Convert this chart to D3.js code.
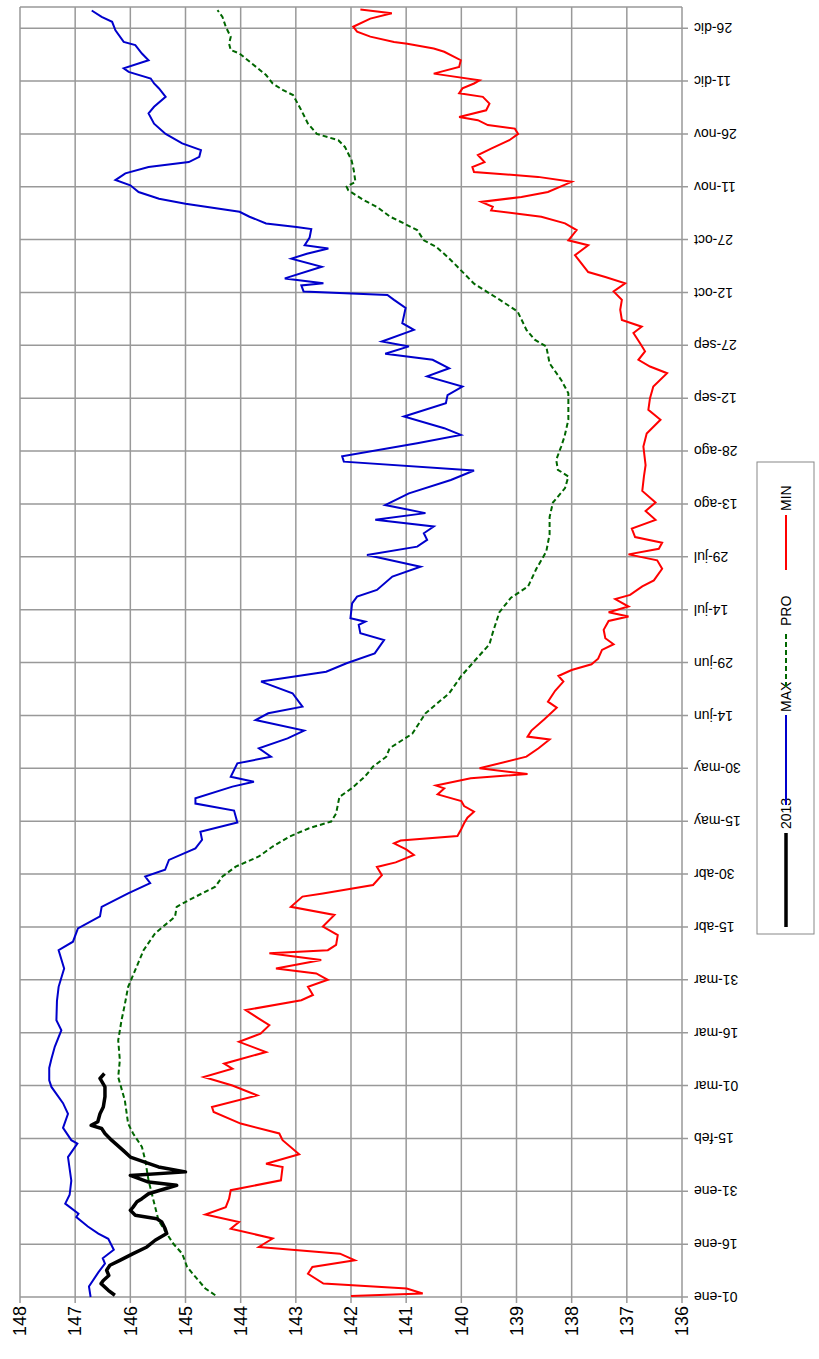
<!DOCTYPE html>
<html>
<head>
<meta charset="utf-8">
<script src="https://cdn.jsdelivr.net/npm/d3@7"></script>
<style>
  body { margin:0; background:#fff; }
  text { font-family: "Liberation Sans", "DejaVu Sans", sans-serif; fill:#000; }
</style>
</head>
<body>
<div id="chart"></div>
<script>
// values (day of year, cm)
var dateLabels = ["01-ene","16-ene","31-ene","15-feb","01-mar","16-mar","31-mar","15-abr","30-abr","15-may","30-may","14-jun","29-jun","14-jul","29-jul","13-ago","28-ago","12-sep","27-sep","12-oct","27-oct","11-nov","26-nov","11-dic","26-dic"];
var valueTicks = [148,147,146,145,144,143,142,141,140,139,138,137,136];

var maxPts = [[0,146.72],[3,146.75],[7,146.58],[9.5,146.46],[11,146.5],[13.4,146.3],[16.5,146.4],[18,146.58],[20,146.77],[22.7,146.98],[23.6,146.94],[26.5,147.18],[29,147.1],[33,147.07],[39.7,147.13],[43.5,146.96],[44.5,147.07],[48,147.22],[52,147.13],[55,147.22],[59.6,147.43],[61.5,147.47],[65,147.47],[67.6,147.43],[71,147.37],[75.7,147.25],[78.5,147.34],[84,147.33],[88,147.3],[93.2,147.2],[98.4,147.3],[100.8,147.04],[104.6,146.95],[108,146.55],[110.7,146.52],[114.5,146.04],[117.4,145.64],[119.3,145.73],[121.2,145.37],[124,145.3],[127.3,144.82],[129.7,144.7],[132,144.73],[134.6,144.06],[138,144.12],[140,144.82],[141.5,144.82],[144.8,144.15],[146.2,143.76],[147.6,144.18],[151.4,144.06],[153.3,143.45],[155.7,143.67],[158.5,143.15],[160.7,142.85],[163.7,143.73],[165.6,143.5],[167.5,142.88],[171.3,143.06],[174.6,143.63],[177.4,142.45],[179.8,142.08],[182.6,141.57],[186.4,141.4],[188.3,141.83],[190.7,141.86],[191.6,141.74],[192.6,142.01],[196.8,141.98],[198.7,141.89],[200.6,141.53],[204.4,141.25],[207.2,140.74],[210.5,141.71],[212.9,140.8],[214.8,140.62],[216.7,140.68],[218.6,140.5],[220.5,141.56],[222.4,140.65],[224.7,141.38],[228,140.95],[231.8,140.19],[234.5,139.77],[237,142.13],[238.5,142.16],[242.2,140.8],[244.6,140.01],[246.5,140.31],[249.8,141.04],[253.6,140.28],[255.9,140.25],[258.3,139.98],[261.2,140.62],[263.5,140.22],[265.9,140.52],[267.6,141.38],[269.7,140.95],[271.1,141.44],[274.4,140.86],[276.3,141.07],[280.6,141.01],[282.9,141.22],[284.3,141.34],[285.3,142.86],[287,142.9],[287.6,142.5],[289,143.2],[292.3,142.53],[294.6,143.08],[296,142.8],[297.5,142.41],[298.4,142.84],[300.6,142.75],[303,142.72],[303.6,142.99],[304.6,143.54],[306.5,143.84],[307.9,144.02],[310.2,145.0],[311.6,145.48],[313.5,145.85],[315.4,146.0],[316.9,146.27],[318.8,146.09],[320.6,145.67],[322,144.94],[323.5,144.75],[325.4,144.72],[327.3,145.06],[330,145.36],[332.9,145.57],[335.8,145.67],[337.7,145.57],[340.5,145.36],[342.9,145.48],[344.3,145.57],[345.7,145.63],[347.6,146.03],[348.6,146.12],[350.9,145.67],[352.8,145.79],[355.2,145.91],[356.1,146.12],[359.4,146.27],[361.8,146.33],[363.2,146.52],[365,146.7]];

var minPts = [[0.3,142.0],[1,140.7],[2.4,140.99],[3.8,142.5],[6.6,142.78],[8.5,142.7],[10.4,141.93],[12.3,142.2],[14.2,143.67],[16.6,143.42],[19.4,144.18],[21.3,144.03],[23.4,144.64],[25.5,144.27],[27.9,144.21],[30.3,144.18],[33.1,143.27],[36.9,143.24],[37.8,143.54],[40.5,142.94],[44.5,143.24],[46.4,143.3],[49.2,144.0],[52.5,144.49],[53.9,144.52],[57.2,143.7],[60,144.15],[62.4,144.67],[64.8,144.15],[66.2,144.3],[69.5,143.54],[72.4,144.03],[74.7,143.64],[77.1,143.48],[79,143.67],[81.4,143.91],[84.2,142.9],[85.7,142.69],[88,142.78],[90,142.42],[91.8,142.63],[93.2,143.36],[95.6,142.54],[97.5,143.48],[98.4,142.42],[99.9,142.27],[102.7,142.24],[105.1,142.51],[108.4,142.3],[110.7,143.09],[113.6,142.88],[114.5,142.51],[116.9,141.6],[119.7,141.44],[122,141.53],[123.3,141.19],[125.4,140.86],[127,141.0],[128.7,141.22],[129.5,141.1],[130.8,140.07],[132.8,140.0],[134.4,139.95],[136,139.89],[137.7,139.77],[139.3,139.95],[140.7,140.0],[142.6,140.43],[144.3,140.31],[145.1,140.46],[147.2,139.83],[148.4,138.8],[150,139.67],[153.3,138.82],[155.7,138.6],[158.2,138.4],[159,138.8],[160.7,138.73],[164,138.49],[167.2,138.27],[168.9,138.43],[172,138.3],[174.6,138.15],[176.2,138.24],[177.9,138.0],[179.5,137.64],[181.1,137.52],[183.6,137.45],[185.2,137.24],[186.9,137.39],[189.3,137.42],[191.8,137.33],[193.1,136.97],[194.3,137.33],[195.9,136.97],[198,137.21],[199.2,136.94],[201.6,136.72],[203.3,136.51],[206.6,136.36],[209,136.45],[210.7,136.97],[212.3,136.42],[214,136.36],[215.6,136.85],[218,136.91],[220.5,136.48],[223,136.66],[225.4,136.48],[228.7,136.72],[232.8,136.69],[236,136.66],[241.3,136.7],[245,136.64],[248.9,136.39],[251.7,136.61],[255,136.58],[258.3,136.52],[262.1,136.27],[264,136.58],[265.9,136.79],[268.3,136.67],[270.6,136.76],[273.5,136.88],[275.3,136.73],[277.2,137.09],[280.1,137.12],[282.9,137.09],[285.3,137.24],[287.6,137.03],[289.4,137.39],[290.8,137.7],[295.6,137.94],[298.4,137.7],[299.8,138.06],[302.7,137.91],[304.6,138.12],[306.5,138.55],[308.3,139.46],[309.3,139.43],[310.7,139.64],[312.1,138.91],[313.5,138.43],[316.4,138.0],[317.8,138.61],[319.2,139.77],[320.6,139.8],[322,139.58],[324,139.7],[325.8,139.46],[328.2,139.13],[330,138.97],[331.5,139.03],[332.5,139.52],[333.9,139.7],[334.8,140.04],[336.7,139.55],[338.6,139.49],[340.5,139.61],[341.5,140.04],[342.9,139.98],[344.3,139.77],[345.2,139.67],[347.1,140.5],[349,140.04],[350.9,140.01],[353.3,140.31],[354.2,140.5],[355.6,140.98],[356.1,141.22],[357.6,141.65],[359,141.89],[360.4,141.96],[362.7,141.65],[364.2,141.26],[365.3,141.83]];

var proPts = [[0.5,144.46],[2.4,144.64],[5.7,144.82],[8.5,144.97],[12.3,145.06],[15.1,145.22],[18,145.34],[21.8,145.49],[27.4,145.58],[33.1,145.67],[38.8,145.73],[42.6,145.79],[46.4,145.95],[49.2,146.04],[55.8,146.1],[62.4,146.22],[67.2,146.19],[72.8,146.22],[78.5,146.16],[83,146.1],[88,146.04],[92.8,145.91],[98.4,145.76],[103.2,145.55],[107.9,145.19],[110.7,145.16],[112.6,144.94],[116.4,144.46],[119.3,144.33],[122.1,144.09],[125,143.67],[127.8,143.42],[130.6,143.12],[133,142.76],[134.9,142.36],[137.2,142.27],[141.9,142.21],[144.3,141.99],[147.6,141.75],[150.5,141.6],[153.3,141.36],[155.7,141.3],[159.8,140.89],[165.6,140.65],[171.3,140.22],[176.2,140.0],[180.3,139.77],[185.2,139.49],[188.5,139.43],[194.3,139.31],[198.4,139.1],[201.6,138.79],[206.6,138.64],[211.5,138.46],[216.4,138.4],[221.3,138.4],[225.4,138.34],[229.5,138.12],[232.8,138.06],[234.7,138.25],[237.5,138.28],[241.3,138.19],[244.1,138.13],[248.9,138.06],[256.4,138.06],[260.2,138.19],[264.9,138.4],[269.7,138.46],[271.6,138.67],[274.4,138.82],[279.6,138.98],[282.9,139.3],[287.5,139.77],[292.3,140.07],[295.1,140.25],[298,140.46],[299.8,140.68],[302.7,140.8],[304.6,141.04],[306.5,141.29],[309.3,141.53],[311.2,141.77],[314,142.05],[315,142.08],[316.4,141.92],[319.7,141.95],[322.5,141.99],[326.3,142.11],[328.2,142.23],[330,142.62],[332.9,142.78],[336.7,142.9],[341,143.05],[342.4,143.23],[344.3,143.42],[346.7,143.54],[349,143.72],[350.9,143.87],[352.8,144.02],[353.8,144.18],[355.6,144.21],[357.5,144.18],[360.4,144.27],[363.2,144.33],[365.1,144.42]];

var y2013Pts = [[0.5,146.28],[1.9,146.4],[3.8,146.53],[4.7,146.49],[6.1,146.39],[7.6,146.43],[9,146.37],[10.4,146.19],[12.3,145.95],[14.2,145.7],[16.1,145.55],[18,145.34],[19.4,145.37],[21.3,145.43],[22.2,145.52],[23.2,145.91],[24.6,146.0],[25.5,145.95],[27,145.88],[27.9,145.79],[29.3,145.67],[31.7,145.16],[32.6,145.67],[34.5,146.0],[35.5,145.0],[36.9,145.49],[39.7,146.0],[41.6,146.13],[44.5,146.34],[46.4,146.46],[47.8,146.52],[48.7,146.71],[49.7,146.59],[52,146.55],[53.9,146.49],[56.8,146.46],[59.6,146.46],[62,146.55],[63.4,146.47]];

var W = 819, H = 1359;
var svg = d3.select("#chart").append("svg").attr("width", W).attr("height", H);

// chart is drawn turned a quarter: values run along the bottom, days run upward
var xScale = d3.scaleLinear().domain([148, 136]).range([20, 682]);
var yScale = d3.scaleLinear().domain([0, 366]).range([1297, 7]);
var dayTicks = d3.range(0, 361, 15);

var grid = svg.append("g").attr("stroke", "#999").attr("stroke-width", 1.5);
grid.selectAll(".gv").data(valueTicks).enter().append("line")
    .attr("x1", d => xScale(d)).attr("x2", d => xScale(d))
    .attr("y1", yScale(366)).attr("y2", yScale(0) + 6);
grid.selectAll(".gh").data(dayTicks).enter().append("line")
    .attr("x1", xScale(148)).attr("x2", xScale(136) + 6)
    .attr("y1", d => yScale(d)).attr("y2", d => yScale(d));
grid.append("line").attr("x1", xScale(148)).attr("x2", xScale(136))
    .attr("y1", yScale(366)).attr("y2", yScale(366));

// value labels
svg.selectAll(".vl").data(valueTicks).enter().append("text")
    .attr("transform", d => "translate(" + xScale(d) + "," + (yScale(0) + 9) + ") rotate(-90)")
    .attr("text-anchor", "end").attr("dy", "0.35em")
    .style("font-size", "18px").text(d => d);

// date labels (upside down)
svg.selectAll(".dl").data(dayTicks).enter().append("text")
    .attr("transform", d => "translate(" + (xScale(136) + 12) + "," + yScale(d) + ") rotate(180)")
    .attr("text-anchor", "end").attr("dy", "0.35em")
    .style("font-size", "14px").attr("fill", "#222").text((d, i) => dateLabels[i]);

var line = d3.line().x(d => xScale(d[1])).y(d => yScale(d[0]));

svg.append("path").datum(proPts).attr("d", line).attr("fill", "none")
    .attr("stroke", "#006600").attr("stroke-width", 2).attr("stroke-dasharray", "5,3");
svg.append("path").datum(minPts).attr("d", line).attr("fill", "none")
    .attr("stroke", "#ff0000").attr("stroke-width", 2);
svg.append("path").datum(maxPts).attr("d", line).attr("fill", "none")
    .attr("stroke", "#0000cc").attr("stroke-width", 2);
svg.append("path").datum(y2013Pts).attr("d", line).attr("fill", "none")
    .attr("stroke", "#000").attr("stroke-width", 3.5).attr("stroke-linejoin", "round");

// legend
var lg = svg.append("g");
lg.append("rect").attr("x", 757).attr("y", 462).attr("width", 57).attr("height", 472)
    .attr("fill", "#fff").attr("stroke", "#888").attr("stroke-width", 1);
var legendItems = [
  {name: "2013", color: "#000", w: 3.5, dash: null, y1: 927, y2: 833, ty: 829},
  {name: "MAX", color: "#0000cc", w: 2, dash: null, y1: 805, y2: 715, ty: 712},
  {name: "PRO", color: "#006600", w: 2, dash: "5,3", y1: 687, y2: 632, ty: 626},
  {name: "MIN", color: "#ff0000", w: 2, dash: null, y1: 570, y2: 515, ty: 511}
];
legendItems.forEach(function(it) {
  lg.append("line").attr("x1", 786).attr("x2", 786).attr("y1", it.y1).attr("y2", it.y2)
    .attr("stroke", it.color).attr("stroke-width", it.w).attr("stroke-dasharray", it.dash);
  lg.append("text").attr("transform", "translate(786," + it.ty + ") rotate(-90)")
    .attr("dy", "0.35em").style("font-size", "14px").text(it.name);
});
</script>
</body>
</html>
